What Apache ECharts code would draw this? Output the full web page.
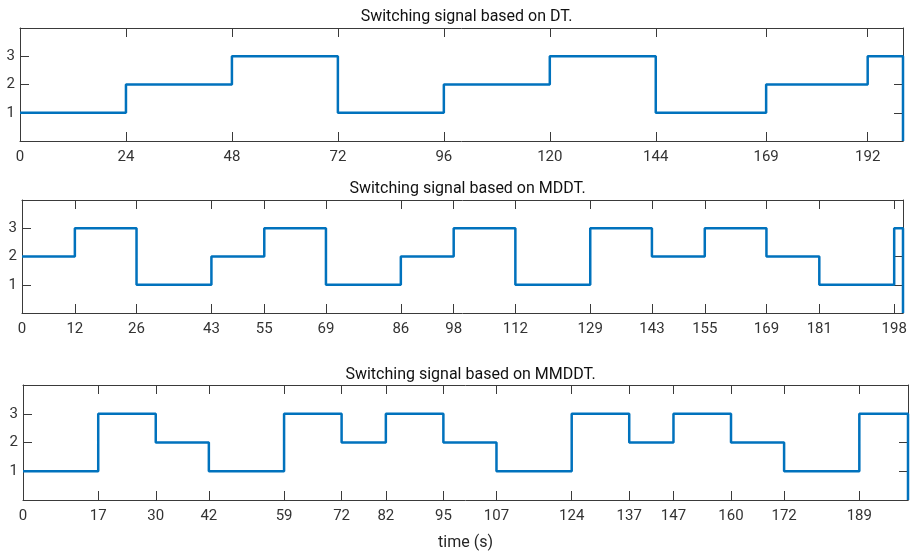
<!DOCTYPE html>
<html>
<head>
<meta charset="utf-8">
<script src="https://cdn.jsdelivr.net/npm/echarts@6/dist/echarts.min.js"></script>
<style>html,body{margin:0;padding:0;background:#fff}#c{width:912px;height:556px}</style>
</head>
<body>
<div id="c"></div>
<script>
// ---- data ----
const titles = ['Switching signal based on DT.', 'Switching signal based on MDDT.', 'Switching signal based on MMDDT.'];
const dtTimes = [0, 24, 48, 72, 96, 120, 144, 169, 192, 200];
const dtModes = [1, 2, 3, 1, 2, 3, 1, 2, 3, 0];
const mddtTimes = [0, 12, 26, 43, 55, 69, 86, 98, 112, 129, 143, 155, 169, 181, 198, 200];
const mddtModes = [2, 3, 1, 2, 3, 1, 2, 3, 1, 3, 2, 3, 2, 1, 3, 0];
const mmddtTimes = [0, 17, 30, 42, 59, 72, 82, 95, 107, 124, 137, 147, 160, 172, 189, 200];
const mmddtModes = [1, 3, 2, 1, 3, 2, 3, 2, 1, 3, 2, 3, 2, 1, 3, 0];
const dtTicks = [0, 24, 48, 72, 96, 120, 144, 169, 192];
const mddtTicks = [0, 12, 26, 43, 55, 69, 86, 98, 112, 129, 143, 155, 169, 181, 198];
const mmddtTicks = [0, 17, 30, 42, 59, 72, 82, 95, 107, 124, 137, 147, 160, 172, 189];
const yTicks = [1, 2, 3];
const xLabel = 'time (s)';

// ---- layout ----
const FONT = "'Liberation Sans Narrow', 'Arial Narrow', Roboto, 'Liberation Sans', sans-serif";
const grids = [
  {left: 20, top: 28, width: 883, height: 113},
  {left: 22, top: 200, width: 881, height: 113},
  {left: 23, top: 385, width: 885, height: 115}
];
const titleTops = [4, 176, 362];
const series = [[dtTimes, dtModes], [mddtTimes, mddtModes], [mmddtTimes, mmddtModes]];
const ticks = [dtTicks, mddtTicks, mmddtTicks];

const axisLine = {show: true, onZero: false, lineStyle: {color: '#3a3a3a', width: 1}};
const tickStyle = {color: '#3a3a3a', width: 1};

const option = {
  animation: false,
  backgroundColor: '#fff',
  textStyle: {fontFamily: FONT},
  title: titles.map((t, i) => ({
    text: t,
    left: grids[i].left + grids[i].width / 2,
    top: titleTops[i],
    textAlign: 'center',
    textStyle: {fontFamily: FONT, fontSize: 16, fontWeight: 'normal', color: '#111'}
  })),
  grid: grids,
  xAxis: [],
  yAxis: [],
  series: []
};

grids.forEach((g, i) => {
  option.xAxis.push({
    type: 'value', gridIndex: i, min: 0, max: 200, position: 'bottom',
    axisLine: axisLine,
    axisTick: {show: true, inside: true, length: 9, customValues: ticks[i], lineStyle: tickStyle},
    axisLabel: {show: true, customValues: ticks[i], margin: 9, fontSize: 15, color: '#333', fontFamily: FONT},
    splitLine: {show: false},
    name: i === 2 ? xLabel : '',
    nameLocation: 'middle', nameGap: 35,
    nameTextStyle: {fontSize: 16, color: '#262626', fontFamily: FONT}
  });
  option.xAxis.push({
    type: 'value', gridIndex: i, min: 0, max: 200, position: 'top',
    axisLine: axisLine,
    axisTick: {show: true, inside: true, length: 9, customValues: ticks[i], lineStyle: tickStyle},
    axisLabel: {show: false},
    splitLine: {show: false}
  });
  option.yAxis.push({
    type: 'value', gridIndex: i, min: 0, max: 4, position: 'left',
    axisLine: axisLine,
    axisTick: {show: true, inside: true, length: 9, customValues: yTicks, lineStyle: tickStyle},
    axisLabel: {show: true, customValues: yTicks, margin: 5, fontSize: 15, color: '#333', fontFamily: FONT},
    splitLine: {show: false}
  });
  option.yAxis.push({
    type: 'value', gridIndex: i, min: 0, max: 4, position: 'right',
    axisLine: axisLine,
    axisTick: {show: true, inside: true, length: 9, customValues: yTicks, lineStyle: tickStyle},
    axisLabel: {show: false},
    splitLine: {show: false}
  });
  const [times, modes] = series[i];
  option.series.push({
    type: 'line',
    xAxisIndex: i * 2,
    yAxisIndex: i * 2,
    step: 'end',
    clip: false,
    showSymbol: false,
    symbol: 'none',
    data: times.map((t, k) => [t, modes[k]]),
    lineStyle: {color: '#0072BD', width: 2.5},
    z: 5
  });
});

const chart = echarts.init(document.getElementById('c'), null, {renderer: 'canvas'});
chart.setOption(option);
</script>
</body>
</html>
